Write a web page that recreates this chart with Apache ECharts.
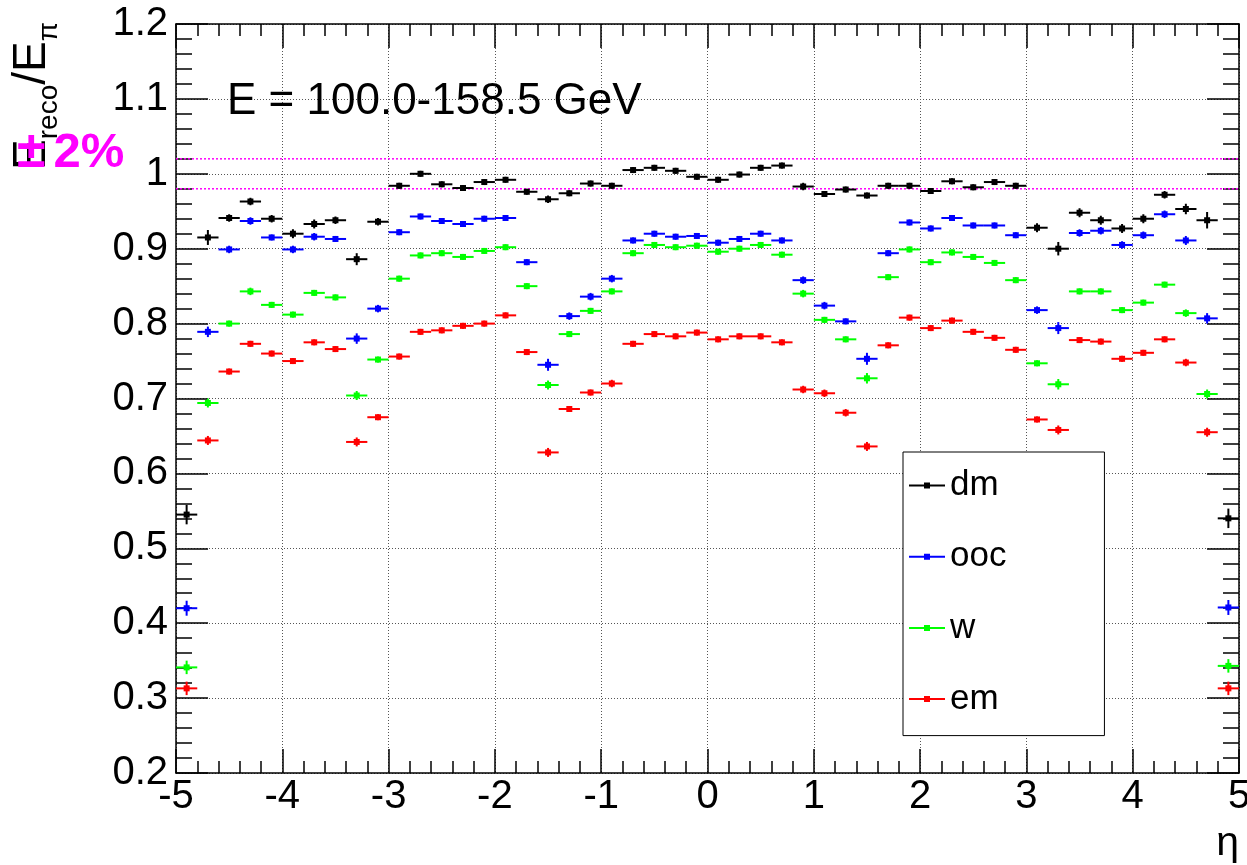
<!DOCTYPE html>
<html>
<head>
<meta charset="utf-8">
<script src="https://cdn.jsdelivr.net/npm/echarts@6/dist/echarts.min.js"></script>
<style>
html,body{margin:0;padding:0;background:#fff;}
#chart{width:1247px;height:865px;}
</style>
</head>
<body>
<div id="chart"></div>
<script>
// ---- data ----
const etaBins = [-4.9,-4.7,-4.5,-4.3,-4.1,-3.9,-3.7,-3.5,-3.3,-3.1,
                 -2.9,-2.7,-2.5,-2.3,-2.1,-1.9,-1.7,-1.5,-1.3,-1.1,
                 -0.9,-0.7,-0.5,-0.3,-0.1,0.1,0.3,0.5,0.7,0.9,
                 1.1,1.3,1.5,1.7,1.9,2.1,2.3,2.5,2.7,2.9,
                 3.1,3.3,3.5,3.7,3.9,4.1,4.3,4.5,4.7,4.9];
const binHalfWidth = 0.1;

const dmVals  = [0.545,0.915,0.941,0.963,0.940,0.920,0.933,0.938,0.886,0.936,
                 0.984,1.000,0.986,0.981,0.989,0.992,0.976,0.966,0.974,0.987,
                 0.984,1.005,1.008,1.004,0.996,0.992,0.999,1.008,1.011,0.983,
                 0.973,0.979,0.971,0.984,0.984,0.977,0.990,0.982,0.989,0.984,
                 0.928,0.900,0.948,0.938,0.927,0.940,0.972,0.953,0.938,0.540];
const oocVals = [0.420,0.789,0.899,0.937,0.915,0.899,0.916,0.913,0.780,0.820,
                 0.922,0.943,0.937,0.933,0.940,0.941,0.882,0.745,0.810,0.836,
                 0.860,0.911,0.920,0.916,0.917,0.908,0.913,0.920,0.911,0.858,
                 0.824,0.803,0.753,0.894,0.935,0.927,0.941,0.931,0.931,0.918,
                 0.818,0.794,0.921,0.924,0.905,0.918,0.946,0.911,0.807,0.421];
const wVals   = [0.341,0.694,0.800,0.843,0.825,0.812,0.841,0.835,0.704,0.752,
                 0.860,0.891,0.894,0.889,0.897,0.902,0.850,0.718,0.786,0.817,
                 0.843,0.894,0.905,0.902,0.904,0.896,0.900,0.905,0.892,0.840,
                 0.805,0.779,0.727,0.862,0.899,0.882,0.895,0.889,0.881,0.858,
                 0.747,0.719,0.843,0.843,0.818,0.828,0.852,0.814,0.706,0.343];
const emVals  = [0.313,0.644,0.736,0.773,0.760,0.750,0.775,0.766,0.642,0.675,
                 0.756,0.789,0.791,0.797,0.800,0.811,0.762,0.628,0.686,0.708,
                 0.720,0.773,0.786,0.783,0.788,0.779,0.783,0.783,0.775,0.712,
                 0.707,0.681,0.636,0.771,0.808,0.794,0.804,0.789,0.781,0.765,
                 0.672,0.658,0.778,0.776,0.753,0.761,0.779,0.748,0.655,0.313];

const dmErr  = [0.013,0.010,0.005,0.005,0.005,0.006,0.006,0.005,0.008,0.005,
                0.004,0.004,0.004,0.004,0.004,0.004,0.004,0.005,0.004,0.004,
                0.004,0.004,0.004,0.004,0.004,0.004,0.004,0.004,0.004,0.005,
                0.004,0.004,0.004,0.004,0.004,0.004,0.004,0.004,0.004,0.004,
                0.006,0.009,0.006,0.006,0.006,0.006,0.005,0.007,0.011,0.013];
const oocErr = [0.010,0.007,0.005,0.005,0.004,0.005,0.005,0.004,0.007,0.005,
                0.004,0.004,0.004,0.004,0.004,0.004,0.004,0.008,0.005,0.005,
                0.005,0.004,0.004,0.004,0.004,0.004,0.004,0.004,0.004,0.005,
                0.005,0.004,0.008,0.004,0.004,0.004,0.004,0.004,0.004,0.004,
                0.005,0.008,0.005,0.005,0.005,0.005,0.005,0.006,0.007,0.010];
const wErr   = [0.009,0.006,0.004,0.005,0.004,0.004,0.004,0.004,0.006,0.004,
                0.004,0.004,0.004,0.004,0.004,0.004,0.004,0.006,0.004,0.004,
                0.004,0.004,0.004,0.004,0.004,0.004,0.004,0.004,0.004,0.005,
                0.004,0.004,0.007,0.004,0.004,0.004,0.004,0.004,0.004,0.004,
                0.004,0.007,0.004,0.004,0.004,0.004,0.004,0.005,0.006,0.009];
const emErr  = [0.009,0.006,0.004,0.004,0.004,0.004,0.004,0.004,0.006,0.004,
                0.004,0.004,0.004,0.004,0.004,0.004,0.004,0.006,0.004,0.004,
                0.005,0.004,0.004,0.004,0.004,0.004,0.004,0.004,0.004,0.005,
                0.005,0.005,0.006,0.004,0.004,0.004,0.004,0.004,0.004,0.004,
                0.004,0.006,0.004,0.004,0.004,0.004,0.004,0.005,0.006,0.009];

const seriesNames  = ['dm','ooc','w','em'];
const seriesColors = ['#000000','#0000ff','#00ff00','#ff0000'];
const bandLevels = [0.98, 1.02];
const xTicks = [-5,-4,-3,-2,-1,0,1,2,3,4,5];
const yTicks = [0.2,0.3,0.4,0.5,0.6,0.7,0.8,0.9,1.0,1.1,1.2];
const energyLabel = 'E = 100.0-158.5 GeV';
const bandLabel = ['±','2%'];

// ---- chart ----
const FONT = '"Liberation Sans", Arial, Helvetica, sans-serif';
const chart = echarts.init(document.getElementById('chart'), null, {renderer: 'canvas'});

function buildData(vals, errs) {
  return etaBins.map((x, i) => [x, vals[i], errs[i]]);
}
const allVals = [dmVals, oocVals, wVals, emVals];
const allErrs = [dmErr, oocErr, wErr, emErr];

function renderItem(params, api) {
  const x = api.value(0), y = api.value(1), e = api.value(2);
  const l = api.coord([x - binHalfWidth, y]);
  const r = api.coord([x + binHalfWidth, y]);
  const t = api.coord([x, y + e]);
  const b = api.coord([x, y - e]);
  const c = api.visual('color');
  const s = 6;
  return {
    type: 'group',
    children: [
      {type: 'line', shape: {x1: l[0], y1: l[1], x2: r[0], y2: r[1]}, style: {stroke: c, lineWidth: 2}},
      {type: 'line', shape: {x1: t[0], y1: t[1], x2: b[0], y2: b[1]}, style: {stroke: c, lineWidth: 2}},
      {type: 'rect', shape: {x: (l[0] + r[0]) / 2 - s / 2, y: l[1] - s / 2, width: s, height: s}, style: {fill: c}}
    ]
  };
}

const xMin = xTicks[0], xMax = xTicks[xTicks.length - 1];
const yMin = yTicks[0], yMax = yTicks[yTicks.length - 1];

const gridLine = {show: true, lineStyle: {color: '#555', width: 1, type: [1, 2]}};
function makeX(pos, showLabels, showSplit) {
  return {
    type: 'value', position: pos, min: xMin, max: xMax, interval: 1,
    axisLine: {show: true, onZero: false, lineStyle: {color: '#000', width: 1.5}},
    axisTick: {show: true, inside: true, length: 24, lineStyle: {color: '#000', width: 1.5}},
    minorTick: {show: true, splitNumber: 5, length: 12, lineStyle: {color: '#000', width: 1.5}},
    axisLabel: {show: showLabels, fontSize: 40, color: '#000', fontFamily: FONT, margin: 4,
                showMinLabel: true, showMaxLabel: true},
    splitLine: showSplit ? gridLine : {show: false},
    minorSplitLine: {show: false}
  };
}
function makeY(pos, showLabels, showSplit) {
  return {
    type: 'value', position: pos, min: yMin, max: yMax, interval: 0.1,
    axisLine: {show: true, onZero: false, lineStyle: {color: '#000', width: 1.5}},
    axisTick: {show: true, inside: true, length: 32, lineStyle: {color: '#000', width: 1.5}},
    minorTick: {show: true, splitNumber: 5, length: 16, lineStyle: {color: '#000', width: 1.5}},
    axisLabel: {show: showLabels, fontSize: 40, color: '#000', fontFamily: FONT, margin: 8,
                showMinLabel: true, showMaxLabel: true},
    splitLine: showSplit ? gridLine : {show: false},
    minorSplitLine: {show: false}
  };
}

const series = seriesNames.map((name, k) => ({
  name: name,
  type: 'custom',
  xAxisIndex: 0, yAxisIndex: 0,
  renderItem: renderItem,
  clip: true,
  itemStyle: {color: seriesColors[k]},
  encode: {x: 0, y: 1},
  data: buildData(allVals[k], allErrs[k]),
  z: 5
}));
bandLevels.forEach(v => {
  series.push({
    type: 'line', name: 'band' + v, xAxisIndex: 0, yAxisIndex: 0,
    data: [[xMin, v], [xMax, v]], symbol: 'none', silent: true,
    lineStyle: {color: '#ff00ff', width: 1.5, type: [2, 2]}, z: 3
  });
});

const legendIcon = 'path://M0,2 L15,2 L15,0 L21,0 L21,2 L36,2 L36,4 L21,4 L21,6 L15,6 L15,4 L0,4 Z';

const option = {
  backgroundColor: '#fff',
  animation: false,
  grid: {left: 176, right: 8, top: 24, bottom: 92, containLabel: false, outerBoundsMode: 'none'},
  xAxis: [makeX('bottom', true, true), makeX('top', false, false)],
  yAxis: [makeY('left', true, true), makeY('right', false, false)],
  legend: {
    orient: 'vertical', left: 903, top: 452,
    data: seriesNames.map(n => ({name: n, icon: legendIcon})),
    itemWidth: 36, itemHeight: 6, itemGap: 36.2,
    padding: [16, 98, 19, 6],
    borderColor: '#000', borderWidth: 1, backgroundColor: '#fff',
    selectedMode: false,
    textStyle: {fontSize: 35, color: '#000', fontFamily: FONT, lineHeight: 34}
  },
  graphic: [
    {type: 'text', x: 227, y: 102, z: 10,
     style: {text: energyLabel, fill: '#000', font: '44px ' + FONT, verticalAlign: 'middle', align: 'left'}},
    {type: 'text', x: 36, y: 22, rotation: Math.PI / 2, z: 10,
     style: {text: '{m|E}{s|reco}{m|/E}{s|π}', align: 'right', verticalAlign: 'middle',
             rich: {
               m: {fontSize: 46, fontFamily: FONT, fill: '#000', lineHeight: 54, verticalAlign: 'top'},
               s: {fontSize: 28, fontFamily: FONT, fill: '#000', lineHeight: 28, verticalAlign: 'bottom'}
             }}},
    {type: 'text', x: 17, y: 153, z: 11,
     style: {text: '{a|' + bandLabel[0] + '}{b|' + bandLabel[1] + '}', align: 'left', verticalAlign: 'middle',
             rich: {
               a: {fontSize: 52, fontWeight: 'bold', fontFamily: FONT, fill: '#ff00ff'},
               b: {fontSize: 49, fontWeight: 'bold', fontFamily: FONT, fill: '#ff00ff', padding: [0, 0, 0, 8]}
             }}},
    {type: 'text', x: 1239, y: 844, z: 10,
     style: {text: 'η', fill: '#000', font: '41px ' + FONT, align: 'right', verticalAlign: 'middle'}}
  ],
  series: series
};
chart.setOption(option);
</script>
</body>
</html>
